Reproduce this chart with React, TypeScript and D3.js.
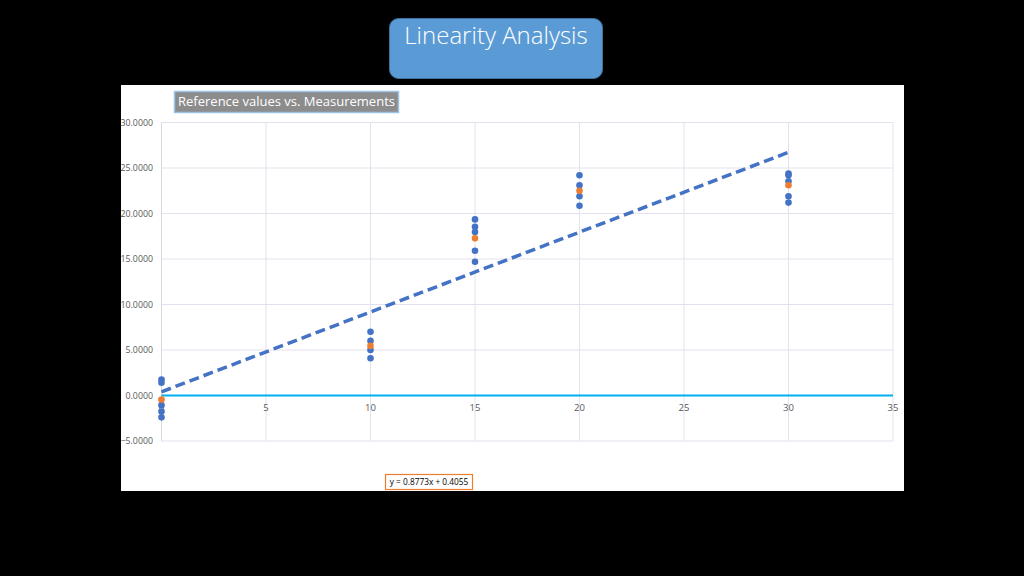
import React from 'react';
import * as d3 from 'd3';

const refLevels = [0, 10, 15, 20, 30];
const measurements = [
  [1.75, 1.4, -1.06, -1.75, -2.4],
  [7.0, 6.0, 5.0, 4.1],
  [19.35, 18.55, 17.96, 15.9, 14.7],
  [24.2, 23.1, 21.9, 20.85],
  [24.4, 24.2, 23.55, 21.9, 21.2],
];
const averages = [-0.45, 5.45, 17.27, 22.5, 23.1];
const slope = 0.8773;
const intercept = 0.4055;
const xTicks = [0, 5, 10, 15, 20, 25, 30, 35];
const yTicks = [-5, 0, 5, 10, 15, 20, 25, 30];

const FONT = "'Open Sans', 'Liberation Sans', sans-serif";

export default function App() {
  const x = d3.scaleLinear().domain([0, 35]).range([161.5, 893]);
  const y = d3.scaleLinear().domain([-5, 30]).range([441, 122.5]);

  const trend = d3.line<number>().x(d => x(d)).y(d => y(slope * d + intercept));
  const blue = '#4472C4';
  const orange = '#ED7D31';

  const dots: { cx: number; cy: number; c: string }[] = [];
  refLevels.forEach((r, i) => {
    measurements[i].forEach(v => dots.push({ cx: x(r), cy: y(v), c: blue }));
    dots.push({ cx: x(r), cy: y(averages[i]), c: orange });
  });

  return (
    <svg width={1024} height={576} style={{ position: 'absolute', left: 0, top: 0, background: '#000' }}>
      <rect x={0} y={0} width={1024} height={576} fill="#000" />

      {/* title box */}
      <rect x={389.5} y={18.5} width={213} height={60} rx={9} fill="#5B9BD5" stroke="#41719C" strokeWidth={1} />
      <text x={496} y={38} textAnchor="middle" dominantBaseline="middle" fill="#fff" fontFamily={FONT} fontWeight={300} fontSize={24}>
        Linearity Analysis
      </text>

      {/* chart area */}
      <rect x={121} y={85} width={783} height={406} fill="#fff" />

      {/* grid */}
      {xTicks.map(t => (
        <line key={'gx' + t} x1={x(t)} x2={x(t)} y1={y(30)} y2={y(-5)} stroke="#E3E1EE" strokeWidth={1} />
      ))}
      {yTicks.map(t => (
        <line key={'gy' + t} x1={x(0)} x2={x(35)} y1={y(t)} y2={y(t)} stroke="#E3E1EE" strokeWidth={1} />
      ))}
      <line x1={x(0)} x2={x(0)} y1={y(30)} y2={y(-5)} stroke="#D9D9D9" strokeWidth={1} />

      {/* zero line */}
      <line x1={x(0)} x2={x(35)} y1={y(0)} y2={y(0)} stroke="#00B0F0" strokeWidth={2} />

      {/* y labels */}
      {yTicks.map(t => (
        <text key={'ly' + t} x={153} y={y(t)} dy="0.35em" textAnchor="end" fontFamily={FONT} fontSize={8.8} fill="#595959">
          {d3.format('.4f')(t)}
        </text>
      ))}
      {/* x labels */}
      {xTicks.map(t => (
        <text key={'lx' + t} x={x(t)} y={y(0) + 12} dy="0.35em" textAnchor="middle" fontFamily={FONT} fontSize={9.5} fill="#595959">
          {t}
        </text>
      ))}

      {/* trend line */}
      <path d={trend([0, 30]) || ''} fill="none" stroke={blue} strokeWidth={3.5} strokeDasharray="10 5" />

      {/* points */}
      {dots.map((d, i) => (
        <circle key={i} cx={d.cx} cy={d.cy} r={3.3} fill={d.c} />
      ))}

      {/* subtitle */}
      <rect x={174.5} y={91.5} width={224} height={21} fill="#8C8C8C" stroke="#9DC3E6" strokeWidth={1.5} />
      <text x={286.5} y={102.5} textAnchor="middle" dominantBaseline="middle" fill="#fff" fontFamily={FONT} fontSize={13}>
        Reference values vs. Measurements
      </text>

      {/* equation */}
      <rect x={385.5} y={474.5} width={87} height={15} fill="#fff" stroke={orange} strokeWidth={1.2} />
      <text x={429} y={482.5} textAnchor="middle" dominantBaseline="middle" fill="#000" fontFamily={FONT} fontSize={8.3}>
        {`y = ${slope}x + ${intercept}`}
      </text>
    </svg>
  );
}
